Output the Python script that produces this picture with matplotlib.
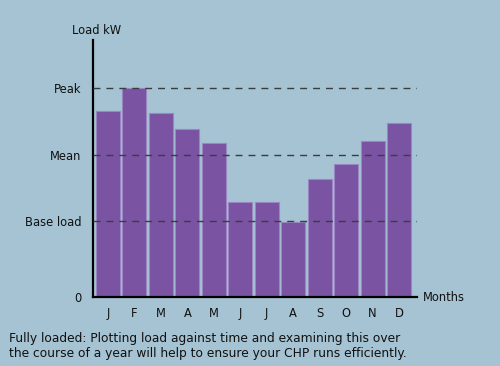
import matplotlib
matplotlib.use("Agg")
import matplotlib.pyplot as plt

# monthly load (arbitrary kW units, 0 = x axis)
months = ["J", "F", "M", "A", "M", "J", "J", "A", "S", "O", "N", "D"]
load = [186, 209, 184, 168, 154, 95, 95, 75, 118, 133, 156, 174]
# reference levels drawn as dashed lines
level_names = ["Base load", "Mean", "Peak"]
level_values = [76, 142, 209]

BG = "#a5c3d3"
BAR = "#7a53a3"
EDGE = "#9b86c4"

fig = plt.figure(figsize=(5.0, 3.66), dpi=100, facecolor=BG)
ax = fig.add_axes([0.186, 0.1885, 0.648, 0.702])
ax.set_facecolor(BG)

xs = range(len(months))
ax.bar(xs, load, width=0.91, color=BAR, edgecolor=EDGE, linewidth=0.8, zorder=2)
for v in level_values:
    ax.axhline(v, color="#3c3c3c", lw=1.0, dashes=(5, 4.3), zorder=3)

ax.set_xlim(-0.567, 11.68)
ax.set_ylim(0, 257)
for s in ("top", "right"):
    ax.spines[s].set_visible(False)
for s in ("left", "bottom"):
    ax.spines[s].set_linewidth(1.6)
    ax.spines[s].set_color("black")

ax.set_xticks(list(xs), months)
ax.set_yticks([0] + level_values, ["0"] + level_names)
ax.tick_params(length=0, labelsize=8.3, colors="#111")
ax.tick_params(axis="x", pad=7)
ax.tick_params(axis="y", pad=8.5)

ax.text(0.01, 1.012, "Load kW", transform=ax.transAxes, ha="center", va="bottom",
        fontsize=8.3, color="#111")
ax.text(1.018, 0.0, "Months", transform=ax.transAxes, ha="left", va="center",
        fontsize=8.3, color="#111")

fig.text(0.018, 0.0546, "Fully loaded: Plotting load against time and examining this over\n"
         "the course of a year will help to ensure your CHP runs efficiently.",
         ha="left", va="center", fontsize=8.8, color="#111", linespacing=1.25)

fig.savefig("out.png", dpi=100, facecolor=BG)
